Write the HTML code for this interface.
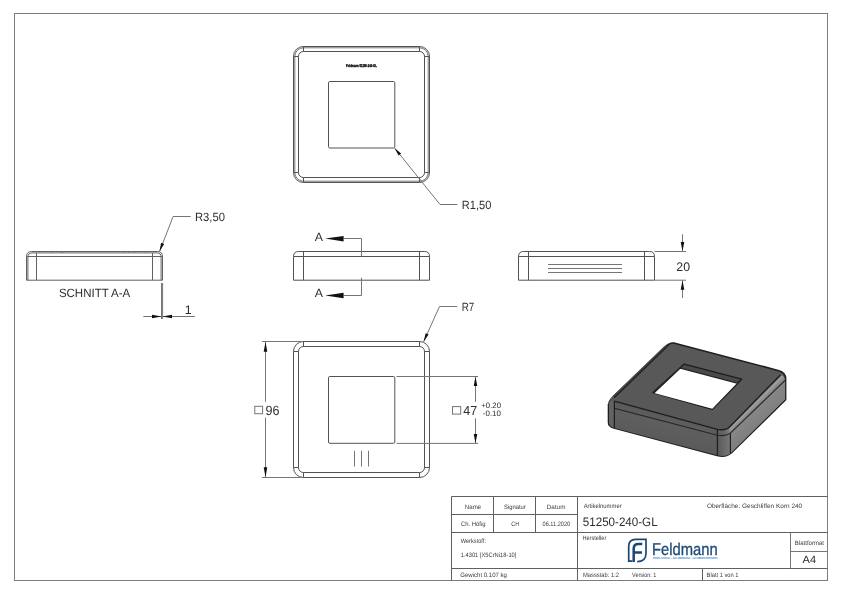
<!DOCTYPE html>
<html lang="de">
<head>
<meta charset="utf-8">
<title>51250-240-GL</title>
<style>
html,body{margin:0;padding:0;background:#fff;}
body{width:842px;height:595px;overflow:hidden;}
svg{display:block;position:absolute;left:0;top:0;will-change:transform;opacity:0.999;}
svg text{font-family:"Liberation Sans",sans-serif;fill:#2e2e2e;text-rendering:geometricPrecision;}
.ln{stroke:#525252;stroke-width:1;fill:none;}
.thin{stroke:#757575;stroke-width:1;fill:none;}
.sec{stroke:#626262;stroke-width:1;fill:none;}
.fr{stroke:#7d7d7d;stroke-width:1;fill:none;}
.tb{stroke:#606060;stroke-width:1;fill:none;}
.ar{fill:#111;stroke:none;}
.s{fill:#3a3a3a;}
</style>
</head>
<body>
<svg width="842" height="595" viewBox="0 0 842 595">
<rect x="0" y="0" width="842" height="595" fill="#fff"/>

<!-- sheet frame -->
<g id="frame">
<rect class="fr" x="14.5" y="13.5" width="813" height="567"/>
</g>

<!-- top view -->
<g id="topview">
<rect class="ln" x="293.5" y="46.5" width="136" height="136" rx="9.9"/>
<rect class="thin" x="294.8" y="47.8" width="133.4" height="133.4" rx="8.6"/>
<rect class="ln" x="298.5" y="51.5" width="126" height="126" rx="4.9"/>
<path class="ln" d="M303.5 46.5V51.5M293.5 56.5H298.5M419.5 46.5V51.5M424.5 56.5H429.5M303.5 177.5V182.5M293.5 172.5H298.5M419.5 177.5V182.5M424.5 172.5H429.5"/>
<rect class="ln" x="328.5" y="81.5" width="66.3" height="66.5" rx="1.3"/>
<text x="346.1" y="66.9" style="font-size:4px;font-weight:bold;fill:#000;stroke:#000;stroke-width:0.3" textLength="30.7" lengthAdjust="spacingAndGlyphs">Feldmann 51250-240-GL</text>
<path class="thin" d="M394.8 148.3L440 204.5H457.5"/>
<path class="ar" d="M394.5 148.0L398.6 155.6L401.1 153.6Z"/>
<text x="461.8" y="208.7" style="font-size:12px" textLength="29.5" lengthAdjust="spacingAndGlyphs">R1,50</text>
</g>

<!-- section A-A -->
<g id="section">
<path class="sec" d="M26.5 280.2V256.5Q26.5 251.5 31.5 251.5H157.5Q162.5 251.5 162.5 256.5V280.2Z"/>
<path class="sec" d="M27.9 280.2V257Q27.9 252.9 32 252.9H157Q161.1 252.9 161.1 257V280.2"/>
<path class="sec" d="M26.5 256.5H162.5M36.5 252.9V280.2M152.5 252.9V280.2"/>
<path class="thin" d="M40 251.5V252.9M53 251.5V252.9M61 251.5V252.9M62.5 251.5V252.9M125 251.5V252.9M129 251.5V252.9M134 251.5V252.9M145.5 251.5V252.9"/>
<text x="58.9" y="296.9" style="font-size:12px" textLength="71.3" lengthAdjust="spacingAndGlyphs">SCHNITT A-A</text>
<path class="thin" d="M159.6 251.4L173.1 216.5H190.6"/>
<path class="ar" d="M159.4 251.7L164.1 244.0L161.1 242.8Z"/>
<text x="195" y="220.8" style="font-size:12px" textLength="30" lengthAdjust="spacingAndGlyphs">R3,50</text>
<path class="thin" d="M161.5 283V319M162.6 283V319M143.3 316.5H195"/>
<path class="ar" d="M161.6 316.5L152 314.8V318.2ZM162.4 316.5L172 314.8V318.2Z"/>
<text x="184.8" y="313.7" style="font-size:12.5px">1</text>
</g>

<!-- front view -->
<g id="frontview">
<path class="ln" d="M293.5 280.2V256.5Q293.5 251.5 298.5 251.5H424.5Q429.5 251.5 429.5 256.5V280.2Z"/>
<path class="ln" d="M293.5 256.5H429.5M303.5 251.5V280.2M419.5 251.5V280.2"/>
<path class="thin" d="M343.6 238.5H361.5V256.5M343.6 295.5H361.5V277.7"/>
<path class="ar" d="M325.1 238.6L343.6 235.9V241.4ZM325.1 295.4L343.6 292.7V298.2Z"/>
<text x="314.8" y="240.8" style="font-size:12px" textLength="8.2" lengthAdjust="spacingAndGlyphs">A</text>
<text x="314.8" y="297.3" style="font-size:12px" textLength="8.2" lengthAdjust="spacingAndGlyphs">A</text>
</g>

<!-- side view -->
<g id="sideview">
<path class="ln" d="M518.5 280.2V256.5Q518.5 251.5 523.5 251.5H649.5Q654.5 251.5 654.5 256.5V280.2Z"/>
<path class="ln" d="M518.5 256.5H654.5M528.5 251.5V280.2M644.5 251.5V280.2"/>
<path class="thin" d="M548 264.5H622M548 268.5H622M548 272.5H622"/>
<path class="thin" d="M654.5 251.5H686M654.5 280.2H686M682.5 234.3V251.5M682.5 280.2V298"/>
<path class="ar" d="M682.5 251.3L680.7 242H684.3ZM682.5 280.4L680.7 289.7H684.3Z"/>
<text x="676.3" y="271.1" style="font-size:12.5px" textLength="13.7" lengthAdjust="spacingAndGlyphs">20</text>
</g>

<!-- bottom view -->
<g id="bottomview">
<rect class="ln" x="293.5" y="341.5" width="136" height="136" rx="9.9"/>
<rect class="ln" x="298.5" y="346.5" width="126" height="126" rx="4.9"/>
<path class="ln" d="M303.5 341.5V346.5M293.5 351.5H298.5M419.5 341.5V346.5M424.5 351.5H429.5M303.5 472.5V477.5M293.5 467.5H298.5M419.5 472.5V477.5M424.5 467.5H429.5"/>
<rect class="ln" x="328.5" y="376.5" width="66.3" height="66.8" rx="1.3"/>
<path class="thin" d="M354.5 450.8V466.5M361.5 450.8V466.5M368.5 450.8V466.5"/>
<path class="thin" d="M262 341.5H301M262 477.5H301M265.5 341.5V401.8M265.5 417.7V477.5"/>
<path class="ar" d="M265.5 341.7L263.7 351.7H267.3ZM265.5 477.3L263.7 467.3H267.3Z"/>
<rect class="thin" x="254.8" y="406.3" width="7.8" height="7.4"/>
<text x="265.5" y="414.9" style="font-size:13.4px" textLength="14.0" lengthAdjust="spacingAndGlyphs">96</text>
<path class="thin" d="M396.5 376.5H478M396.5 443.4H478M475.5 376.5V401.8M475.5 418.3V443.4"/>
<path class="ar" d="M475.5 376.7L473.7 386H477.3ZM475.5 443.2L473.7 433.9H477.3Z"/>
<rect class="thin" x="452.5" y="406.6" width="8.2" height="7.5"/>
<text x="463.2" y="414.6" style="font-size:13px" textLength="13.9" lengthAdjust="spacingAndGlyphs">47</text>
<text x="481.3" y="407.7" style="font-size:7.8px" textLength="19.7" lengthAdjust="spacingAndGlyphs">+0.20</text>
<text x="482.8" y="415.6" style="font-size:7.8px" textLength="18.2" lengthAdjust="spacingAndGlyphs">-0.10</text>
<path class="thin" d="M423.7 341.6L439.5 306.5H457.2"/>
<path class="ar" d="M423.5 342.0L428.6 334.5L425.7 333.2Z"/>
<text x="461.7" y="310.6" style="font-size:12px" textLength="12.6" lengthAdjust="spacingAndGlyphs">R7</text>
</g>

<!-- isometric view -->
<g id="iso">
<defs>
<linearGradient id="gFil" gradientUnits="userSpaceOnUse" x1="753.6" y1="400.6" x2="758.9" y2="405.9">
<stop offset="0" stop-color="#585858"/><stop offset="0.4" stop-color="#a0a0a0"/><stop offset="1" stop-color="#7c7c7c"/>
</linearGradient>
<linearGradient id="gCor" gradientUnits="userSpaceOnUse" x1="717" y1="0" x2="731" y2="0">
<stop offset="0" stop-color="#585858"/><stop offset="0.6" stop-color="#6c6c6c"/><stop offset="1" stop-color="#7a7a7a"/>
</linearGradient>
<linearGradient id="gCorF" gradientUnits="userSpaceOnUse" x1="717" y1="0" x2="731" y2="0">
<stop offset="0" stop-color="#5a5a5a"/><stop offset="0.55" stop-color="#666"/><stop offset="1" stop-color="#8c8c8c"/>
</linearGradient>
<linearGradient id="gRight" gradientUnits="userSpaceOnUse" x1="750" y1="410" x2="765" y2="426">
<stop offset="0" stop-color="#888"/><stop offset="1" stop-color="#7c7c7c"/>
</linearGradient>
<linearGradient id="gLeft" gradientUnits="userSpaceOnUse" x1="665" y1="415" x2="659" y2="440">
<stop offset="0" stop-color="#5a5a5a"/><stop offset="0.3" stop-color="#5f5f5f"/><stop offset="1" stop-color="#5a5a5a"/>
</linearGradient>
</defs>
<path d="M664.3 346.2Q668.2 342.3 673.8 343L778 370.4Q785.6 372.4 785.6 378.5V399.8L731.5 452.6Q726 457.6 717.2 455.4L614 427.9Q608.5 426.5 608.5 422.5V403.5Q608.5 400.2 612.3 396.2Z" fill="#585858"/>
<path d="M666.3 347.3Q669 342.4 673.8 343L778 370.4Q785.6 372.4 785.6 378.5V399.8L731.5 452.6Q726 457.6 717.2 455.4L614 427.9Q608.5 426.5 608.5 422.5V404" fill="none" stroke="#1e1e1e" stroke-width="1.6" stroke-linejoin="round"/>
<path d="M614.4 401.1L717.4 429.4V455.2L614.4 427.9Z" fill="url(#gLeft)"/>
<path d="M609 403.5Q609 401 614.4 401.1V427.9Q609 426.5 609 422.5Z" fill="#636363"/>
<path d="M717.4 429.4Q724.4 430.6 728.6 428L730.4 433.1V453.4Q725.5 457.3 717.4 455.2Z" fill="url(#gCor)"/>
<path d="M730.4 433.1L785.1 380.4V399.6L730.4 453.4Z" fill="url(#gRight)"/>
<path d="M728.6 428L780.5 374.9Q784.5 375.5 785.1 380.4L730.4 433.1Z" fill="url(#gFil)"/>
<path d="M717.4 429.4Q724.4 430.6 728.6 428L730.4 433.1Q726 436.5 717.4 435.2Z" fill="url(#gCorF)"/>
<path d="M614.4 401.1L717.4 429.4Q724.4 430.6 728.6 428L780.5 374.9" fill="none" stroke="#1e1e1e" stroke-width="1.4"/>
<path d="M614.4 408.3L717.4 435.2Q725 436.6 730.4 433.1L785.1 380.4" fill="none" stroke="#242424" stroke-width="1.1"/>
<path d="M614.4 401.1V427.9M717.4 429.4V455.2M730.4 433.1V453.4" fill="none" stroke="#1e1e1e" stroke-width="1.2"/>
<path d="M613.1 396.8L665.2 346.6" fill="none" stroke="#474747" stroke-width="1.6"/>
<path d="M614.2 397.7L666.3 347.3" fill="none" stroke="#1e1e1e" stroke-width="1.2"/>
<path d="M608.6 404Q608.6 401.5 611 399" fill="none" stroke="#3a3a3a" stroke-width="1"/>
<path d="M684.2 364.1L741.7 379.2L712.3 409.3L652.9 392.6Z" fill="#4a4a4a" stroke="#1e1e1e" stroke-width="1.3" stroke-linejoin="round"/>
<path d="M680.3 368.1L737.1 383.1L712.3 408.8L654.1 392.9Z" fill="#fff"/>
<path d="M654.1 392.9L680.3 368.1L737.1 383.1L741.7 379.2" fill="none" stroke="#222" stroke-width="1.1" stroke-linejoin="round"/>
</g>

<!-- title block -->
<g id="titleblock">
<path class="tb" d="M451.5 580.5V496.5H827.5"/>
<path class="tb" d="M493.5 496.5V532.5M535.5 496.5V532.5M577.5 496.5V580.5M702.5 568.5V580.5"/>
<path class="tb" d="M451.5 514.5H577.5M451.5 532.5H827.5M451.5 568.5H827.5"/>
<path class="thin" d="M790.5 532.5V568.5M790.5 551.5H827.5"/>
<text class="s" x="464.8" y="508.8" style="font-size:6.3px" textLength="16.4" lengthAdjust="spacingAndGlyphs">Name</text>
<text class="s" x="504" y="508.8" style="font-size:6.3px" textLength="21.8" lengthAdjust="spacingAndGlyphs">Signatur</text>
<text class="s" x="546.8" y="508.8" style="font-size:6.3px" textLength="18.6" lengthAdjust="spacingAndGlyphs">Datum</text>
<text class="s" x="461" y="526.3" style="font-size:6.3px" textLength="24.6" lengthAdjust="spacingAndGlyphs">Ch. Höfig</text>
<text class="s" x="511.2" y="526.3" style="font-size:6.3px" textLength="8.0" lengthAdjust="spacingAndGlyphs">CH</text>
<text class="s" x="542.6" y="526.3" style="font-size:6.3px" textLength="27.6" lengthAdjust="spacingAndGlyphs">06.11.2020</text>
<text class="s" x="460.7" y="542.7" style="font-size:6.3px" textLength="25.3" lengthAdjust="spacingAndGlyphs">Werkstoff:</text>
<text class="s" x="460.7" y="556.8" style="font-size:6.3px" textLength="55.7" lengthAdjust="spacingAndGlyphs">1.4301 [X5CrNi18-10]</text>
<text class="s" x="460.3" y="576.8" style="font-size:6.3px" textLength="46.6" lengthAdjust="spacingAndGlyphs">Gewicht 0.107 kg</text>
<text class="s" x="583.7" y="507.8" style="font-size:6.3px" textLength="38.0" lengthAdjust="spacingAndGlyphs">Artikelnummer</text>
<text x="582.8" y="526.1" style="font-size:12.3px" textLength="74.8" lengthAdjust="spacingAndGlyphs">51250-240-GL</text>
<text class="s" x="582.5" y="540.1" style="font-size:6.3px" textLength="23.8" lengthAdjust="spacingAndGlyphs">Hersteller</text>
<text class="s" x="583" y="576.8" style="font-size:6.3px" textLength="36" lengthAdjust="spacingAndGlyphs">Massstab: 1:2</text>
<text class="s" x="632.1" y="576.8" style="font-size:6.3px" textLength="24.2" lengthAdjust="spacingAndGlyphs">Version: 1</text>
<text class="s" x="706.6" y="576.8" style="font-size:6.3px" textLength="31.9" lengthAdjust="spacingAndGlyphs">Blatt 1 von 1</text>
<text class="s" x="706.9" y="508" style="font-size:6.3px" textLength="95.3" lengthAdjust="spacingAndGlyphs">Oberfläche:  Geschliffen Korn 240</text>
<text class="s" x="794.8" y="544.8" style="font-size:6.3px" textLength="29.2" lengthAdjust="spacingAndGlyphs">Blattformat</text>
<text x="802.6" y="562.7" style="font-size:10.4px" textLength="13.5" lengthAdjust="spacingAndGlyphs">A4</text>
</g>

<!-- logo -->
<g id="logo">
<path d="M632.4 561.2H628.7V546.4Q628.7 539.4 635.8 539.4H646V553.2Q646 561.6 637.2 561.6" fill="none" stroke="#1a4876" stroke-width="1.7" stroke-linejoin="miter"/>
<path d="M633.7 561.9V548.6Q633.7 544 638.4 544H642.3M633.7 552.5H642" fill="none" stroke="#1a4876" stroke-width="2.5"/>
<text x="652" y="554.6" style="font-size:17px;fill:#1c4a78;stroke:#1c4a78;stroke-width:0.3" textLength="65.7" lengthAdjust="spacingAndGlyphs">Feldmann</text>
<text x="653" y="559" style="font-size:2.8px;fill:#5b9bd5;stroke:#5b9bd5;stroke-width:0.12" textLength="64.5" lengthAdjust="spacingAndGlyphs">EDELSTAHL · ALUMINIUM · SCHMIEDEEISEN</text>
</g>
</svg>
</body>
</html>
